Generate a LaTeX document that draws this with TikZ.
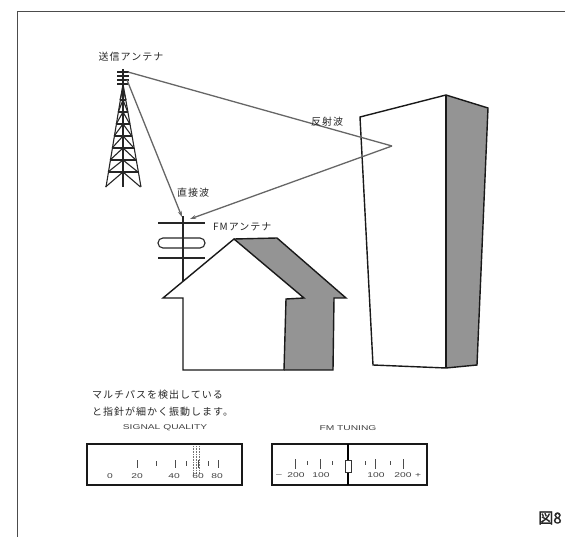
\documentclass[tikz,border=0pt]{standalone}
\usepackage{fontspec}
\usepackage{graphicx}
\setsansfont{Liberation Sans}
\newfontfamily\jpfont[LetterSpace=10]{Noto Sans CJK JP}
\newfontfamily\figfont[FakeBold=1.5]{Noto Sans CJK JP}
\usetikzlibrary{arrows.meta}
\newcommand{\dialtext}[1]{\scalebox{1.25}[0.85]{#1}}
\begin{document}
\begin{tikzpicture}[x=1pt,y=-1pt,
  frameline/.style={draw=black!70, line width=0.9},
  wave/.style={draw=black!60, line width=1.3},
  waveend/.style={wave, -{Stealth[length=6pt,width=4pt]}},
  outline/.style={draw=black!90, line width=1.4, line join=miter},
  shade/.style={fill=black!42},
  towerline/.style={draw=black!85, line width=1.1},
  jp/.style={font=\jpfont\fontsize{10}{12}\selectfont, inner sep=0, text=black!85},
  dial/.style={font=\sffamily\fontsize{8.2}{9}\selectfont, inner sep=0, text=black!75},
  longtick/.style={draw=black!70, line width=0.8},
  meterbox/.style={draw=black!90, line width=1.1}]
\useasboundingbox (0,0) rectangle (565,537);

% page frame
\draw[frameline] (17,537) -- (17,11) -- (565,11);

% transmitting tower
\draw[towerline] (123,84) -- (106,187);
\draw[towerline] (123,84) -- (141,187);
\draw[towerline] (123,84) -- (123,187);
\foreach \y/\yn in {100/112,112/124,124/136,136/148,148/160,160/172,172/187} {
  \pgfmathsetmacro\w{17.5*(\y-84)/103}
  \pgfmathsetmacro\wn{17.5*(\yn-84)/103}
  \draw[towerline] (123-\w,\y) -- (123+\w,\y);
  \draw[towerline] (123,\y) -- (123-\wn,\yn);
  \draw[towerline] (123,\y) -- (123+\wn,\yn);
}
\draw[towerline] (123,88) -- (120,100) (123,88) -- (126,100);
\draw[towerline] (123,69) -- (123,86);
\foreach \y in {72,76,80,84} \draw[towerline] (117,\y) -- (129,\y);
\node[jp] (txlabel) at (131,57) {送信アンテナ};

% tall building
\fill[shade] (446,95) -- (488,108) -- (477,365) -- (446,368) -- cycle;
\draw[outline] (360,117) -- (446,95) -- (488,108) -- (477,365) -- (446,368) -- (373,365) -- cycle;
\draw[outline] (446,95) -- (446,368);

% FM antenna
\draw[towerline] (183,216) -- (183,295);
\draw[towerline] (158,223) -- (205,223);
\draw[towerline] (158,258) -- (205,258);
\draw[towerline, rounded corners=4.9] (158,238) rectangle (205,248);
\node[jp, anchor=west] (fmlabel) at (213,227) {FMアンテナ};

% house
\fill[shade] (234,239) -- (277,238) -- (346,298) -- (334,298) -- (333,370) -- (284,370) -- (286,299) -- (304,298) -- cycle;
\draw[outline] (234,239) -- (277,238) -- (346,298) -- (334,298) -- (333,370) -- (284,370);
\draw[outline, fill=white] (234,239) -- (304,298) -- (286,299) -- (284,370) -- (183,370) -- (183,298) -- (163,298) -- cycle;

% direct and reflected waves
\coordinate (tx) at (128,72);
\coordinate (txb) at (127,80);
\coordinate (refl) at (392,146);
\coordinate (rxr) at (190,219);
\coordinate (rxd) at (182,217);
\draw[wave] (tx) -- (refl);
\draw[waveend] (refl) -- (rxr);
\draw[waveend] (txb) -- (rxd);
\node[jp] (refllabel) at (327,122) {反射波};
\node[jp] (directlabel) at (193,193) {直接波};

% explanation
\node[jp, anchor=west] (note1) at (92,395) {マルチパスを検出している};
\node[jp, anchor=west] (note2) at (92,412) {と指針が細かく振動します。};

% signal quality meter
\node[dial] (sqlabel) at (165,428) {\dialtext{SIGNAL QUALITY}};
\draw[meterbox] (87,444) rectangle (242,485);
\foreach \x in {137,175,198,218} \draw[longtick] (\x,460) -- (\x,468);
\foreach \x in {156,186,208} \draw[longtick] (\x,461) -- (\x,466);
\foreach \x in {193,196,199} \draw[draw=black!55, line width=0.6, densely dotted] (\x,446) -- (\x,474);
\foreach \x/\t in {110/0,137/20,174/40,198/60,217/80}
  \node[dial] (sq\t) at (\x,476) {\dialtext{\t}};

% FM tuning meter
\node[dial] (fmtlabel) at (348,428) {\dialtext{FM TUNING}};
\draw[meterbox] (272,444) rectangle (427,485);
\draw[draw=black, line width=1.5] (348,444) -- (348,485);
\draw[draw=black!80, fill=white, line width=0.6] (345,460) rectangle (351,472);
\foreach \x in {295,320,375,403} \draw[longtick] (\x,459) -- (\x,469);
\foreach \x in {307,332,365,390} \draw[longtick] (\x,461) -- (\x,465);
\node[dial] (fmminus) at (279,475) {\dialtext{–}};
\node[dial] (fmm200) at (296,475) {\dialtext{200}};
\node[dial] (fmm100) at (321,475) {\dialtext{100}};
\node[dial] (fmp100) at (376,475) {\dialtext{100}};
\node[dial] (fmp200) at (403,475) {\dialtext{200}};
\node[dial] (fmplus) at (418,475) {\dialtext{+}};

% figure number
\node[font=\figfont\fontsize{15}{17}\selectfont, inner sep=0, text=black!85] (fignum) at (550,518) {図8};
\end{tikzpicture}
\end{document}
